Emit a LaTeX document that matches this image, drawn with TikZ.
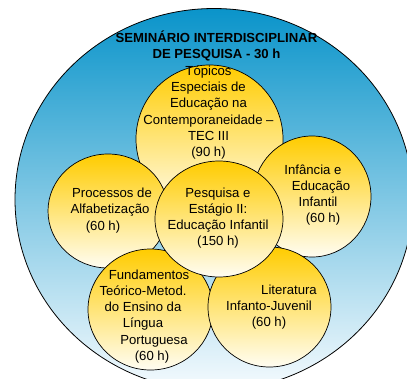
\documentclass[tikz,border=0pt]{standalone}
\usepackage{fontspec}
\setmainfont{Liberation Sans}
\usetikzlibrary{shapes}
\definecolor{SkyTop}{RGB}{10,148,202}
\definecolor{SkyBottom}{RGB}{246,251,254}
\definecolor{GoldTop}{RGB}{255,204,0}
\definecolor{GoldBottom}{RGB}{255,253,242}

\begin{document}
\begin{tikzpicture}[x=1bp, y=-1bp]
				\tikzstyle{seminar}=[draw, ellipse, line width=0.8pt, top color=SkyTop, bottom color=SkyBottom, inner sep=0pt]
				\tikzstyle{course}=[draw, ellipse, line width=0.7pt, top color=GoldTop, bottom color=GoldBottom, inner sep=0pt]
				\tikzstyle{ctext}=[align=center, inner sep=0pt, font=\fontsize{13.2}{16.2}\selectfont]
				\useasboundingbox (0,0) rectangle (407,379);
				\clip (0,0) rectangle (407,379);
				\node [seminar, minimum width=398bp, minimum height=382bp] (sem) at (214,199.5) {};
				\node [ctext, font=\bfseries\fontsize{13.2}{16.2}\selectfont] (tsem) at (216.5,46) {SEMINÁRIO INTERDISCIPLINAR\\DE PESQUISA - 30 h};
				\node [course, minimum width=147bp, minimum height=148bp] (topicos) at (209.5,139) {};
				\node [course, minimum width=118bp, minimum height=121bp] (infancia) at (312,196.5) {};
				\node [course, minimum width=120bp, minimum height=114bp] (processos) at (108,211) {};
				\node [course, minimum width=125bp, minimum height=121bp] (fundamentos) at (150.5,309.5) {};
				\node [course, minimum width=123bp, minimum height=120bp] (literatura) at (269.5,307) {};
				\node [course, minimum width=128bp, minimum height=116bp] (pesquisa) at (219,219) {};
				\node [ctext] (ttopicos) at (208.5,112.5) {Tópicos\\Especiais de\\Educação na\\Contemporaneidade --\\TEC III\\(90 h)};
				\node [ctext] (tinfancia) at (318,195) {Infância e\hspace*{10bp}\\\hspace*{6bp}Educação\\Infantil\hspace*{6bp}\\\hspace*{10bp}(60 h)};
				\node [ctext] (tprocessos) at (110,210.5) {\hspace*{4bp}Processos de\\Alfabetização\\(60 h)\hspace*{14bp}};
				\node [ctext] (tpesquisa) at (218,218) {Pesquisa e\\Estágio II:\\Educação Infantil\\(150 h)};
				\node [ctext] (tfundamentos) at (143,316.5) {\hspace*{12bp}Fundamentos\\Teórico-Metod.\hspace*{8bp}\\do Ensino da\hspace*{6bp}\\Língua\hspace*{36bp}\\\hspace*{22bp}Portuguesa\\\hspace*{18bp}(60 h)};
				\node [ctext] (tliteratura) at (269,307) {\hspace*{40bp}Literatura\\Infanto-Juvenil\\(60 h)};
\end{tikzpicture}
\end{document}
